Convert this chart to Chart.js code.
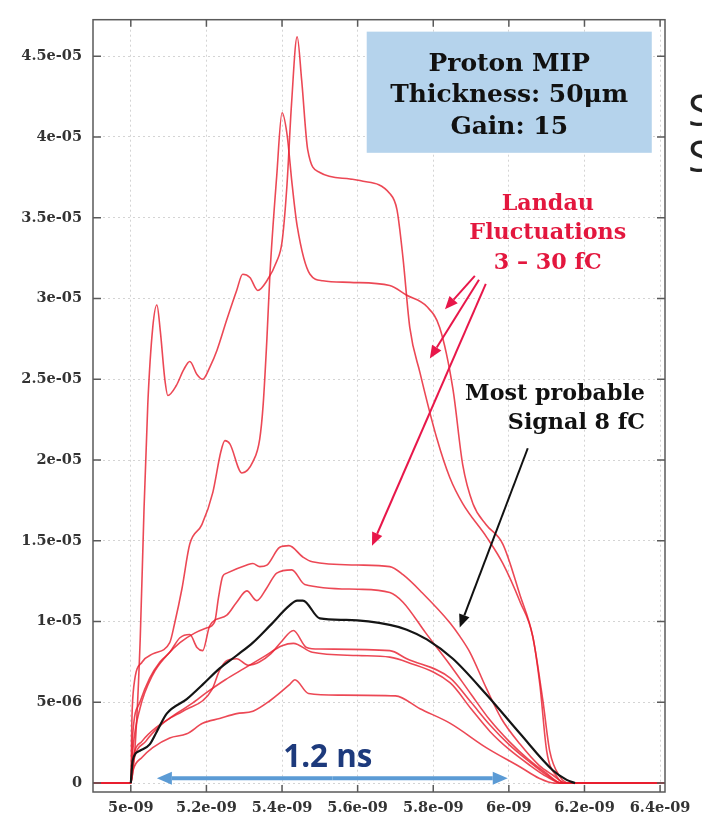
<!doctype html>
<html>
<head>
<meta charset="utf-8">
<script src="https://cdn.jsdelivr.net/npm/chart.js@4/dist/chart.umd.min.js"></script>
<style>
  body { margin: 0; background: #fff; }
</style>
</head>
<body>
<canvas id="chart" width="702" height="822"></canvas>
<script>
  // time in ns, signal in units of 1e-6 (converted when building the datasets)
  const xTicks = [5.0, 5.2, 5.4, 5.6, 5.8, 6.0, 6.2, 6.4];
  const xTickLabels = ['5e-09', '5.2e-09', '5.4e-09', '5.6e-09', '5.8e-09', '6e-09', '6.2e-09', '6.4e-09'];
  const yTicks = [0, 5, 10, 15, 20, 25, 30, 35, 40, 45];
  const yTickLabels = ['0', '5e-06', '1e-05', '1.5e-05', '2e-05', '2.5e-05', '3e-05', '3.5e-05', '4e-05', '4.5e-05'];

  // most probable signal (black)
  const mostProbable = [[5.0, 0], [5.005, 1.4], [5.024, 2.0], [5.05, 2.4], [5.069, 3.2], [5.095, 4.3], [5.148, 5.2],
    [5.19, 6.1], [5.235, 7.1], [5.28, 7.9], [5.323, 8.7], [5.368, 9.75], [5.42, 11.0], [5.44, 11.3], [5.455, 11.3],
    [5.5, 10.2], [5.57, 10.1], [5.685, 9.8], [5.73, 9.5], [5.783, 8.9], [5.852, 7.7], [5.94, 5.5], [6.03, 3.05],
    [6.116, 0.8], [6.153, 0.2], [6.175, 0]];

  // Landau fluctuations (red)
  const landauA = [[4.9, 0], [5.0, 0], [5.012, 2.5], [5.025, 9], [5.035, 17], [5.045, 23.5], [5.058, 28.2], [5.069, 29.6],
    [5.078, 28], [5.09, 25], [5.098, 24], [5.12, 24.6], [5.14, 25.6], [5.156, 26.1], [5.175, 25.3], [5.19, 25.0],
    [5.21, 25.8], [5.228, 26.8], [5.254, 28.7], [5.28, 30.5], [5.296, 31.5], [5.315, 31.3], [5.336, 30.5], [5.36, 31.1],
    [5.386, 32.3], [5.40, 33.5], [5.413, 37], [5.425, 42], [5.44, 46.2], [5.452, 43.5], [5.468, 39.2], [5.5, 37.8],
    [5.58, 37.4], [5.606, 37.3], [5.685, 36.5], [5.704, 35.5], [5.72, 32.5], [5.738, 28.2], [5.765, 25.4], [5.81, 21.3],
    [5.844, 18.9], [5.878, 17.3], [5.942, 15.2], [5.984, 13.6], [6.03, 11.2], [6.063, 9.1], [6.082, 6.1], [6.1, 2.0],
    [6.127, 0.4], [6.15, 0], [6.42, 0]];
  const landauB = [[4.9, 0], [5.0, 0], [5.003, 4], [5.008, 6.0], [5.03, 7.5], [5.058, 8.0], [5.103, 8.7], [5.116, 9.9],
    [5.135, 12.0], [5.156, 14.8], [5.188, 16.0], [5.217, 18.0], [5.238, 20.5], [5.249, 21.2], [5.262, 21.0],
    [5.294, 19.2], [5.323, 19.9], [5.341, 21.3], [5.35, 23.4], [5.36, 27.5], [5.368, 31.5], [5.386, 37.6], [5.40, 41.5],
    [5.413, 40.2], [5.427, 37.0], [5.44, 34.5], [5.474, 31.5], [5.508, 31.1], [5.58, 31.0], [5.685, 30.8], [5.73, 30.2],
    [5.783, 29.5], [5.817, 28.2], [5.852, 24.4], [5.878, 19.7], [5.905, 17.3], [5.94, 16.0], [5.984, 14.8], [6.03, 11.6],
    [6.063, 9.1], [6.09, 5.1], [6.108, 2.0], [6.135, 0.4], [6.16, 0], [6.42, 0]];
  const landauC = [[4.9, 0], [5.0, 0], [5.006, 2.2], [5.024, 4.6], [5.058, 6.7], [5.095, 7.9], [5.13, 8.7], [5.17, 9.3],
    [5.2, 9.6], [5.222, 10.0], [5.232, 11.5], [5.243, 12.8], [5.254, 13.0], [5.307, 13.5], [5.323, 13.6], [5.341, 13.4],
    [5.36, 13.5], [5.394, 14.6], [5.418, 14.7], [5.455, 14.0], [5.48, 13.7], [5.6, 13.5], [5.685, 13.4], [5.72, 12.9],
    [5.77, 11.8], [5.845, 9.9], [5.87, 9.1], [5.897, 8.1], [5.94, 5.9], [5.98, 4.0], [6.03, 2.4], [6.08, 1.1],
    [6.116, 0.5], [6.15, 0], [6.42, 0]];
  const landauD = [[4.9, 0], [5.0, 0], [5.005, 3.0], [5.024, 5.0], [5.05, 6.5], [5.077, 7.5], [5.103, 8.1], [5.13, 9.0],
    [5.156, 9.2], [5.175, 8.4], [5.19, 8.2], [5.209, 9.75], [5.254, 10.4], [5.28, 11.2], [5.307, 11.9], [5.333, 11.3],
    [5.36, 12.1], [5.386, 13.0], [5.426, 13.2], [5.46, 12.3], [5.6, 12.0], [5.685, 11.8], [5.72, 11.2], [5.78, 9.3],
    [5.845, 7.3], [5.9, 5.5], [5.95, 3.9], [6.0, 2.6], [6.05, 1.5], [6.1, 0.6], [6.14, 0], [6.42, 0]];
  const landauF = [[4.9, 0], [5.0, 0], [5.006, 1.5], [5.03, 2.6], [5.07, 3.5], [5.11, 4.1], [5.15, 4.6], [5.19, 5.1],
    [5.215, 5.8], [5.235, 7.0], [5.255, 7.6], [5.28, 7.7], [5.31, 7.3], [5.34, 7.5], [5.37, 8.0], [5.40, 8.8],
    [5.43, 9.45], [5.465, 8.4], [5.5, 8.3], [5.685, 8.2], [5.73, 7.7], [5.845, 6.5], [5.9, 5.0], [5.95, 3.6],
    [6.0, 2.4], [6.05, 1.4], [6.1, 0.5], [6.14, 0], [6.42, 0]];
  const landauG = [[4.9, 0], [5.0, 0], [5.006, 1.2], [5.04, 2.6], [5.08, 3.6], [5.12, 4.3], [5.16, 4.9], [5.2, 5.6],
    [5.25, 6.4], [5.3, 7.1], [5.35, 7.8], [5.40, 8.5], [5.43, 8.65], [5.48, 8.1], [5.6, 7.9], [5.685, 7.8], [5.73, 7.5],
    [5.845, 6.2], [5.9, 4.6], [5.95, 3.2], [6.0, 2.1], [6.05, 1.2], [6.1, 0.4], [6.14, 0], [6.42, 0]];
  const landauH = [[4.9, 0], [5.0, 0], [5.006, 0.8], [5.03, 1.6], [5.058, 2.2], [5.103, 2.8], [5.148, 3.05], [5.19, 3.7],
    [5.235, 4.0], [5.28, 4.3], [5.323, 4.45], [5.368, 5.1], [5.42, 6.1], [5.434, 6.4], [5.47, 5.55], [5.55, 5.45],
    [5.70, 5.4], [5.765, 4.6], [5.845, 3.7], [5.94, 2.2], [6.03, 1.0], [6.08, 0.3], [6.12, 0], [6.42, 0]];

  const redSeries = [landauA, landauB, landauC, landauD, landauF, landauG, landauH];

  const toXY = (pts) => pts.map(([t, v]) => ({x: t * 1e-9, y: v * 1e-6}));

  const datasets = [{
    data: toXY(mostProbable),
    borderColor: '#151515',
    borderWidth: 2.2
  }].concat(redSeries.map((s) => ({
    data: toXY(s),
    borderColor: 'rgba(232, 32, 48, 0.82)',
    borderWidth: 1.6
  })));

  function arrow(ctx, x1, y1, x2, y2, color, width, headLen, headW) {
    const a = Math.atan2(y2 - y1, x2 - x1);
    const bx = x2 - headLen * Math.cos(a), by = y2 - headLen * Math.sin(a);
    ctx.strokeStyle = color;
    ctx.fillStyle = color;
    ctx.lineWidth = width;
    ctx.beginPath();
    ctx.moveTo(x1, y1);
    ctx.lineTo(bx, by);
    ctx.stroke();
    ctx.beginPath();
    ctx.moveTo(x2, y2);
    ctx.lineTo(bx - headW / 2 * Math.sin(a), by + headW / 2 * Math.cos(a));
    ctx.lineTo(bx + headW / 2 * Math.sin(a), by - headW / 2 * Math.cos(a));
    ctx.closePath();
    ctx.fill();
  }

  // pick a font size so the widest line has the given width
  function fitSize(ctx, lines, font, target) {
    ctx.font = font(20);
    const w = Math.max(...lines.map((l) => ctx.measureText(l).width));
    return 20 * target / w;
  }

  const serif = (s) => `bold ${s}px "DejaVu Serif"`;

  const overlay = {
    id: 'overlay',
    beforeDraw(chart) {
      const ctx = chart.ctx;
      ctx.save();
      ctx.fillStyle = '#fff';
      ctx.fillRect(0, 0, chart.width, chart.height);
      ctx.restore();
    },
    afterDatasetsDraw(chart) {
      const {ctx, chartArea: a, scales: {x, y}} = chart;
      ctx.save();
      ctx.strokeStyle = '#5a5a5a';
      ctx.lineWidth = 1.5;
      ctx.strokeRect(a.left, a.top, a.right - a.left, a.bottom - a.top);
      ctx.beginPath();
      xTicks.forEach((t) => {
        const px = x.getPixelForValue(t * 1e-9);
        ctx.moveTo(px, a.bottom); ctx.lineTo(px, a.bottom - 7);
        ctx.moveTo(px, a.top); ctx.lineTo(px, a.top + 7);
      });
      yTicks.forEach((v) => {
        const py = y.getPixelForValue(v * 1e-6);
        ctx.moveTo(a.left, py); ctx.lineTo(a.left + 8, py);
        ctx.moveTo(a.right, py); ctx.lineTo(a.right - 8, py);
      });
      ctx.stroke();
      ctx.restore();
    },
    afterDraw(chart) {
      const {ctx, scales: {x, y}} = chart;
      const px = (t) => x.getPixelForValue(t * 1e-9);
      const py = (v) => y.getPixelForValue(v * 1e-6);
      ctx.save();
      ctx.textBaseline = 'middle';

      // info box
      ctx.fillStyle = '#b5d3ec';
      ctx.fillRect(px(5.624), py(46.52), px(6.378) - px(5.624), py(39.02) - py(46.52));
      const box = ['Proton MIP', 'Thickness: 50μm', 'Gain: 15'];
      let s = fitSize(ctx, box, serif, 238);
      ctx.font = serif(s);
      ctx.fillStyle = '#111';
      ctx.textAlign = 'center';
      [44.51, 42.56, 40.61].forEach((v, i) => ctx.fillText(box[i], px(6.001), py(v)));

      // Landau label and arrows
      const landau = ['Landau', 'Fluctuations', '3 – 30 fC'];
      s = fitSize(ctx, landau, serif, 157);
      ctx.font = serif(s);
      ctx.fillStyle = '#e3173e';
      [35.85, 34.02, 32.2].forEach((v, i) => ctx.fillText(landau[i], px(6.103), py(v)));
      arrow(ctx, px(5.910), py(31.40), px(5.831), py(29.33), '#e8174a', 2, 13, 11);
      arrow(ctx, px(5.921), py(31.16), px(5.791), py(26.28), '#e8174a', 2, 13, 11);
      arrow(ctx, px(5.939), py(30.91), px(5.638), py(14.70), '#e8174a', 2, 13, 11);

      // most probable label and arrow
      const mp = ['Most probable', 'Signal 8 fC'];
      s = fitSize(ctx, mp, serif, 180);
      ctx.font = serif(s);
      ctx.fillStyle = '#111';
      ctx.textAlign = 'right';
      [24.09, 22.26].forEach((v, i) => ctx.fillText(mp[i], px(6.36), py(v)));
      arrow(ctx, px(6.050), py(20.73), px(5.870), py(9.63), '#111', 2, 13, 11);

      // 1.2 ns span
      const sans = (n) => `bold ${n}px "Open Sans"`;
      s = fitSize(ctx, ['1.2 ns'], sans, 89);
      ctx.font = sans(s);
      ctx.fillStyle = '#1d3a7c';
      ctx.textAlign = 'center';
      ctx.fillText('1.2 ns', px(5.521), py(1.52));
      const ay = py(0.30), x1 = px(5.069), x2 = px(5.997), mid = (x1 + x2) / 2;
      arrow(ctx, mid, ay, x1, ay, '#5b9bd5', 4, 15, 13);
      arrow(ctx, mid, ay, x2, ay, '#5b9bd5', 4, 15, 13);

      // slide text cut off at the right edge
      ctx.font = '44px "Open Sans"';
      ctx.fillStyle = '#222';
      ctx.textAlign = 'left';
      ctx.textBaseline = 'alphabetic';
      ctx.fillText('S', 688, 126);
      ctx.fillText('S', 688, 172);
      ctx.restore();
    }
  };

  const tickFont = {family: 'DejaVu Serif', weight: 'bold', size: 14.5};

  new Chart(document.getElementById('chart').getContext('2d'), {
    type: 'line',
    data: {datasets},
    options: {
      responsive: false,
      animation: false,
      parsing: false,
      elements: {
        point: {radius: 0},
        line: {cubicInterpolationMode: 'monotone', fill: false}
      },
      layout: {padding: {top: 8, right: 37, left: 0, bottom: 0}},
      plugins: {legend: {display: false}, tooltip: {enabled: false}},
      scales: {
        x: {
          type: 'linear',
          min: 4.9e-9,
          max: 6.413e-9,
          afterBuildTicks: (sc) => { sc.ticks = xTicks.map((t) => ({value: t * 1e-9})); },
          afterFit: (sc) => { sc.height = 30; },
          ticks: {
            callback: (v, i) => xTickLabels[i],
            font: tickFont,
            color: '#333',
            padding: 8,
            maxRotation: 0,
            autoSkip: false
          },
          grid: {color: '#d4d4d4', lineWidth: 1, drawTicks: false},
          border: {display: false, dash: [2, 3]}
        },
        y: {
          type: 'linear',
          min: -0.55e-6,
          max: 47.26e-6,
          afterBuildTicks: (sc) => { sc.ticks = yTicks.map((v) => ({value: v * 1e-6})); },
          afterFit: (sc) => { sc.width = 93; },
          ticks: {
            callback: (v, i) => yTickLabels[i],
            font: tickFont,
            color: '#333',
            padding: 11,
            autoSkip: false
          },
          grid: {color: '#d4d4d4', lineWidth: 1, drawTicks: false},
          border: {display: false, dash: [2, 3]}
        }
      }
    },
    plugins: [overlay]
  });
</script>
</body>
</html>
